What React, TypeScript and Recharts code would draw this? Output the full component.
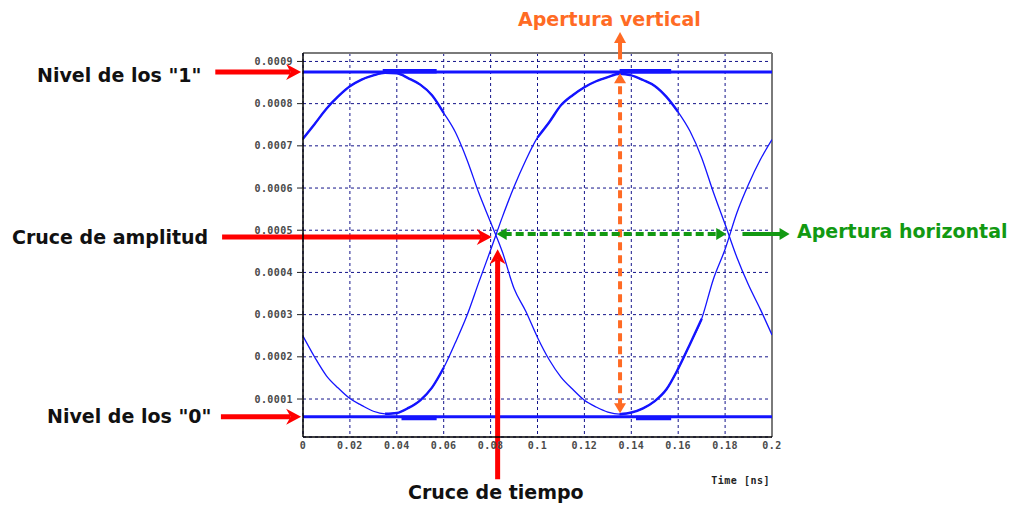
import React from 'react';
import { LineChart, Line, XAxis, YAxis, CartesianGrid, ReferenceLine } from 'recharts';

const timeNs = [
  0, 0.005, 0.01, 0.015, 0.02, 0.025, 0.03, 0.035, 0.04, 0.045,
  0.05, 0.055, 0.06, 0.065, 0.07, 0.075, 0.08, 0.085, 0.09, 0.095,
  0.1, 0.105, 0.11, 0.115, 0.12, 0.125, 0.13, 0.135, 0.14, 0.145,
  0.15, 0.155, 0.16, 0.165, 0.17, 0.175, 0.18, 0.185, 0.19, 0.195, 0.2,
];

const eyeA = [
  0.000717, 0.000752, 0.000788, 0.000817, 0.000841, 0.000857, 0.000867, 0.000873, 0.000872, 0.00086,
  0.000845, 0.00082, 0.000778, 0.000732, 0.000666, 0.000588, 0.000519, 0.000449, 0.000362, 0.000308,
  0.000246, 0.000193, 0.000152, 0.000123, 0.000097, 0.000081, 0.000069, 0.000064, 0.000068, 0.000078,
  0.000095, 0.000123, 0.000172, 0.00023, 0.00029, 0.000384, 0.000455, 0.000541, 0.000609, 0.000667, 0.000715,
];

const eyeB = [
  0.000249, 0.000199, 0.000155, 0.000126, 0.000101, 0.000085, 0.000071, 0.000065, 0.000067, 0.000079,
  0.000097, 0.000127, 0.000174, 0.000234, 0.000299, 0.000377, 0.000453, 0.000531, 0.000603, 0.000666,
  0.00072, 0.000756, 0.000796, 0.00082, 0.000839, 0.000853, 0.000863, 0.000871, 0.000867, 0.000856,
  0.000842, 0.000816, 0.00078, 0.000735, 0.000672, 0.00059, 0.000514, 0.000436, 0.00037, 0.000313, 0.000252,
];

const LEVEL_ONE = 0.000875;
const LEVEL_ZERO = 0.000058;

const xTicks = [0, 0.02, 0.04, 0.06, 0.08, 0.1, 0.12, 0.14, 0.16, 0.18, 0.2];
const yTicks = [0.0001, 0.0002, 0.0003, 0.0004, 0.0005, 0.0006, 0.0007, 0.0008, 0.0009];

const thickA = [[0, 0.06], [0.135, 0.17]];
const thickB = [[0.035, 0.06], [0.1, 0.16]];
const levelOneThick = [[0.034, 0.057], [0.135, 0.157]];
const levelZeroThick = [[0.042, 0.057], [0.142, 0.157]];

const inRanges = (t: number, r: number[][]) => r.some(([lo, hi]) => t >= lo - 1e-9 && t <= hi + 1e-9);

const data = timeNs.map((t, i) => ({
  t,
  a: eyeA[i],
  b: eyeB[i],
  aT: inRanges(t, thickA) ? eyeA[i] : null,
  bT: inRanges(t, thickB) ? eyeB[i] : null,
  one: LEVEL_ONE,
  zero: LEVEL_ZERO,
}));

type ArrowStyle = {
  color: string; w: number; dash?: string; hl: number; hw: number; notch: number; start?: boolean; end?: boolean;
};

const arrowShape = (s: ArrowStyle) => (p: any) => {
  const x1 = Number(p.x1), y1 = Number(p.y1), x2 = Number(p.x2), y2 = Number(p.y2);
  if (![x1, y1, x2, y2].every(Number.isFinite)) return <g />;
  const L = Math.hypot(x2 - x1, y2 - y1) || 1;
  const ux = (x2 - x1) / L, uy = (y2 - y1) / L;
  const head = (tx: number, ty: number, dx: number, dy: number) => {
    const nx = -dy, ny = dx;
    const bx = tx - dx * s.hl, by = ty - dy * s.hl;
    const mx = tx - dx * s.hl * (1 - s.notch), my = ty - dy * s.hl * (1 - s.notch);
    return `${tx},${ty} ${bx + (nx * s.hw) / 2},${by + (ny * s.hw) / 2} ${mx},${my} ${bx - (nx * s.hw) / 2},${by - (ny * s.hw) / 2}`;
  };
  const sx = s.start ? x1 + ux * s.hl * 0.7 : x1;
  const sy = s.start ? y1 + uy * s.hl * 0.7 : y1;
  const ex = s.end ? x2 - ux * s.hl * 0.7 : x2;
  const ey = s.end ? y2 - uy * s.hl * 0.7 : y2;
  return (
    <g>
      <line x1={sx} y1={sy} x2={ex} y2={ey} stroke={s.color} strokeWidth={s.w} strokeDasharray={s.dash} />
      {s.start && <polygon points={head(x1, y1, -ux, -uy)} fill={s.color} />}
      {s.end && <polygon points={head(x2, y2, ux, uy)} fill={s.color} />}
    </g>
  );
};

const RED = '#ff0000';
const ORANGE = '#ff6b24';
const GREEN = '#129912';
const BLUE = '#1414ff';

const redArrow = arrowShape({ color: RED, w: 5, hl: 15, hw: 16, notch: 0.3, end: true });
const orangeDashed = arrowShape({ color: ORANGE, w: 4, dash: '8 5', hl: 10, hw: 12, notch: 0, start: true, end: true });
const orangeSolid = arrowShape({ color: ORANGE, w: 4, hl: 11, hw: 12, notch: 0, end: true });
const greenDashed = arrowShape({ color: GREEN, w: 4, dash: '8 4', hl: 10, hw: 12, notch: 0, start: true, end: true });
const greenSolid = arrowShape({ color: GREEN, w: 4, hl: 10, hw: 12, notch: 0, end: true });

const tickStyle = { fontFamily: 'DejaVu Sans Mono', fontSize: 10, fontWeight: 700, fill: '#4a4a4a', letterSpacing: 0.4 };
const labelFont = { fontFamily: 'DejaVu Sans', fontWeight: 700, fontSize: 19 } as const;

export default function App() {
  return (
    <div style={{ position: 'relative', width: 1000, height: 496 }}>
      <LineChart
        width={1000}
        height={496}
        data={data}
        margin={{ top: 45, right: 236, bottom: 47, left: 235 }}
      >
        <CartesianGrid stroke="#14148a" strokeDasharray="3 3" strokeWidth={1} />
        <XAxis
          type="number"
          dataKey="t"
          domain={[0, 0.2]}
          ticks={xTicks}
          allowDataOverflow
          height={20}
          tick={tickStyle}
          tickFormatter={(v: number) => String(Number(v.toFixed(2)))}
          tickLine={{ stroke: 'transparent' }}
          tickSize={5}
          tickMargin={0}
          axisLine={{ stroke: '#000', strokeWidth: 1.5 }}
          interval={0}
        />
        <YAxis
          type="number"
          domain={[0.00001, 0.00092]}
          ticks={yTicks}
          allowDataOverflow
          width={60}
          tick={tickStyle}
          tickFormatter={(v: number) => v.toFixed(4)}
          tickLine={{ stroke: '#222' }}
          tickSize={6}
          tickMargin={4}
          axisLine={{ stroke: '#000', strokeWidth: 1.5 }}
          interval={0}
        />
        <ReferenceLine y={0.00092} stroke="#7a7a7a" strokeWidth={2} ifOverflow="visible" />
        <ReferenceLine x={0.2} stroke="#7a7a7a" strokeWidth={2} ifOverflow="visible" />

        <Line dataKey="one" stroke={BLUE} strokeWidth={3} dot={false} type="linear" isAnimationActive={false} />
        <Line dataKey="zero" stroke={BLUE} strokeWidth={3} dot={false} type="linear" isAnimationActive={false} />
        {levelOneThick.map(([lo, hi], i) => (
          <ReferenceLine
            key={'o' + i}
            segment={[{ x: lo, y: LEVEL_ONE + 0.000002 }, { x: hi, y: LEVEL_ONE + 0.000002 }]}
            stroke={BLUE}
            strokeWidth={4.5}
            ifOverflow="visible"
          />
        ))}
        {levelZeroThick.map(([lo, hi], i) => (
          <ReferenceLine
            key={'z' + i}
            segment={[{ x: lo, y: LEVEL_ZERO - 0.000003 }, { x: hi, y: LEVEL_ZERO - 0.000003 }]}
            stroke={BLUE}
            strokeWidth={4.5}
            ifOverflow="visible"
          />
        ))}

        <Line dataKey="a" stroke={BLUE} strokeWidth={1.3} dot={false} type="monotone" isAnimationActive={false} />
        <Line dataKey="b" stroke={BLUE} strokeWidth={1.3} dot={false} type="monotone" isAnimationActive={false} />
        <Line dataKey="aT" stroke={BLUE} strokeWidth={2.4} dot={false} type="monotone" isAnimationActive={false} />
        <Line dataKey="bT" stroke={BLUE} strokeWidth={2.4} dot={false} type="monotone" isAnimationActive={false} />

        <ReferenceLine segment={[{ x: -0.0374, y: LEVEL_ONE }, { x: -0.0008, y: LEVEL_ONE }]} ifOverflow="visible" shape={redArrow} />
        <ReferenceLine segment={[{ x: -0.0345, y: 0.000484 }, { x: 0.0805, y: 0.000484 }]} ifOverflow="visible" shape={redArrow} />
        <ReferenceLine segment={[{ x: -0.035, y: LEVEL_ZERO }, { x: -0.0008, y: LEVEL_ZERO }]} ifOverflow="visible" shape={redArrow} />
        <ReferenceLine segment={[{ x: 0.083, y: -0.00009 }, { x: 0.083, y: 0.000455 }]} ifOverflow="visible" shape={redArrow} />

        <ReferenceLine segment={[{ x: 0.1352, y: 0.0000665 }, { x: 0.1352, y: 0.000872 }]} ifOverflow="visible" shape={orangeDashed} />
        <ReferenceLine segment={[{ x: 0.1352, y: 0.000905 }, { x: 0.1352, y: 0.00097 }]} ifOverflow="visible" shape={orangeSolid} />
        <ReferenceLine segment={[{ x: 0.0826, y: 0.000491 }, { x: 0.1805, y: 0.000491 }]} ifOverflow="visible" shape={greenDashed} />
        <ReferenceLine segment={[{ x: 0.1874, y: 0.000491 }, { x: 0.2075, y: 0.000491 }]} ifOverflow="visible" shape={greenSolid} />
      </LineChart>

      <svg
        width={1008}
        height={496}
        style={{ position: 'absolute', left: -8, top: -8, pointerEvents: 'none', overflow: 'visible' }}
      >
        <text x={37} y={82} {...labelFont} fill="#111">{'Nivel de los "1"'}</text>
        <text x={12} y={244} {...labelFont} fill="#111">Cruce de amplitud</text>
        <text x={47} y={423} {...labelFont} fill="#111">{'Nivel de los "0"'}</text>
        <text x={408} y={499} {...labelFont} fill="#111">Cruce de tiempo</text>
        <text x={518} y={26} {...labelFont} fill={ORANGE}>Apertura vertical</text>
        <text x={797} y={238} {...labelFont} fill={GREEN}>Apertura horizontal</text>
        <text x={770} y={484} textAnchor="end" fontFamily="DejaVu Sans Mono" fontWeight={700} fontSize={10} letterSpacing={0.5} fill="#222">
          Time [ns]
        </text>
      </svg>
    </div>
  );
}
